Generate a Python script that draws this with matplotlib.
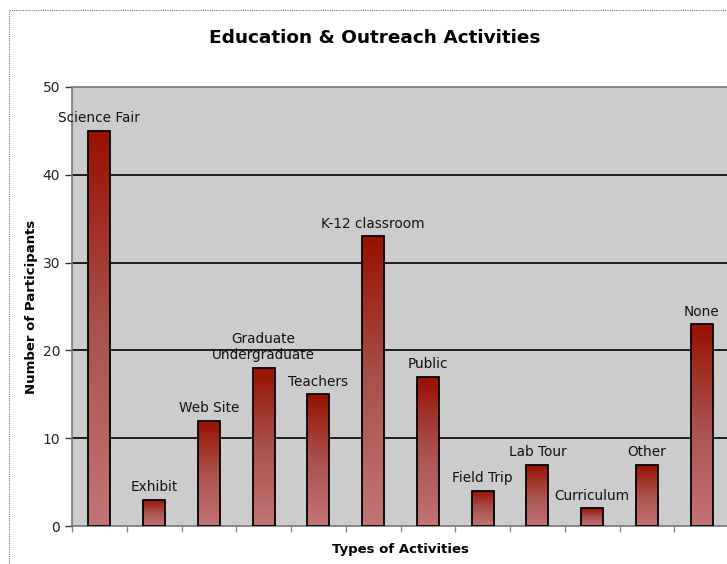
import numpy as np
import matplotlib
matplotlib.use("Agg")
import matplotlib.pyplot as plt
from matplotlib.colors import LinearSegmentedColormap
from matplotlib.patches import Rectangle

# data
categories = ["Science Fair", "Exhibit", "Web Site", "Graduate\nUndergraduate",
              "Teachers", "K-12 classroom", "Public", "Field Trip", "Lab Tour",
              "Curriculum", "Other", "None"]
participants = [45, 3, 12, 18, 15, 33, 17, 4, 7, 2, 7, 23]
y_ticks = [0, 10, 20, 30, 40, 50]

plt.rcParams["font.family"] = ["DejaVu Sans"]

# bar gradient: light at bottom, dark red at top
grad_cmap = LinearSegmentedColormap.from_list(
    "bar_grad", [(0.0, "#c27474"), (0.5, "#a9524d"), (1.0, "#981000")])

fig = plt.figure(figsize=(7.27, 5.64), dpi=100, facecolor="white")
ax = fig.add_axes([72 / 727, 38 / 564, 657 / 727, 439 / 564])
ax.set_facecolor("#cccccc")

x = np.arange(len(categories))
bar_w = 0.4
ax.set_xlim(-0.5, len(categories) - 0.5)
ax.set_ylim(0, 50)

for v in y_ticks[1:-1]:
    ax.axhline(v, color="black", lw=1.2, zorder=1)

gradient = np.linspace(0, 1, 256).reshape(-1, 1)
bars = ax.bar(x, participants, width=bar_w, facecolor="none",
              edgecolor="black", linewidth=1.3, zorder=3)
for b in bars:
    x0, w, h = b.get_x(), b.get_width(), b.get_height()
    im = ax.imshow(gradient, cmap=grad_cmap, origin="lower", aspect="auto",
                   extent=[x0, x0 + w, 0, h], zorder=2)
    im.set_clip_path(b)

for xi, v, name in zip(x, participants, categories):
    ax.annotate(name, (xi, v), xytext=(0, 4), textcoords="offset points",
                ha="center", va="bottom", fontsize=9.8, color="#111111",
                linespacing=1.25)

ax.set_yticks(y_ticks)
ax.set_xticks(np.arange(len(categories) + 1) - 0.5)
ax.set_xticklabels([])
ax.tick_params(axis="y", labelsize=10, length=5, width=1, color="#333333",
               labelcolor="#222222")
ax.tick_params(axis="x", length=4, width=1, color="#888888")

for side in ["left", "bottom", "top"]:
    ax.spines[side].set_color("#777777")
    ax.spines[side].set_linewidth(1.2)
ax.spines["right"].set_visible(False)

ax.set_ylabel("Number of Participants", fontsize=9.5, fontweight="bold", labelpad=3)
ax.set_xlabel("Types of Activities", fontsize=9.5, fontweight="bold", labelpad=5)
fig.text(375 / 727, 1 - 38 / 564, "Education & Outreach Activities",
         ha="center", va="center", fontsize=13.3, fontweight="bold")

# dotted outer frame of the chart area
fig.patches.append(Rectangle((9 / 727, -0.1), 1.2, 1 - 10 / 564 + 0.1,
                             transform=fig.transFigure, fill=False,
                             edgecolor="#777777", lw=0.8, linestyle=(0, (1, 1))))

fig.savefig("out.png", dpi=100, facecolor="white")
